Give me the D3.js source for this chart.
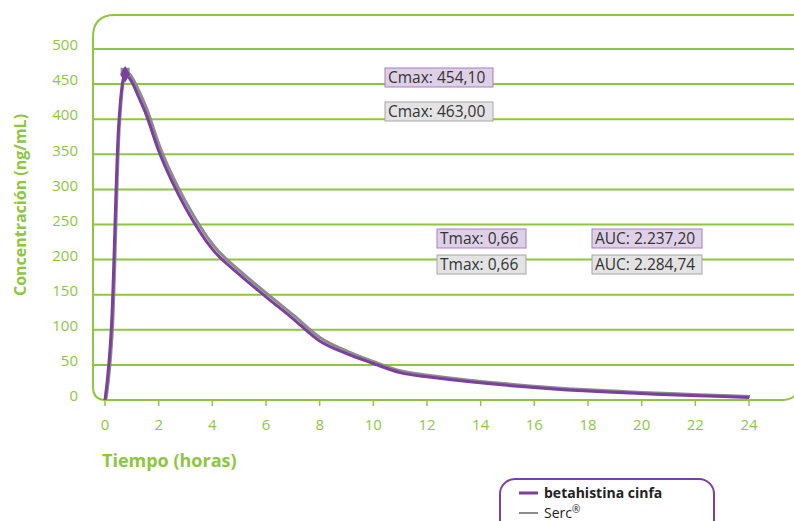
<!DOCTYPE html>
<html>
<head>
<meta charset="utf-8">
<script src="https://cdn.jsdelivr.net/npm/d3@7"></script>
<style>
    body { margin: 0; background: #fff; }
    svg { display: block; font-family: "Open Sans", "Noto Sans", sans-serif; }
</style>
</head>
<body>
<div id="chart"></div>
<script>
// data
const hours = [0, 0.25, 0.5, 0.75, 1, 1.25, 1.5, 2, 2.5, 3, 4, 5, 6, 7, 8, 9, 10, 11, 12, 24];
const cinfa = [0, 112, 385, 464, 453, 432, 410, 355, 311, 274, 215, 179, 147, 116, 84, 66, 52, 39, 33, 3.5];
const serc  = [0, 108, 390, 467, 456, 437, 415, 360, 316, 279, 219, 182, 150, 119, 87, 68, 53, 40, 34, 3.5];
const xTicks = [0, 2, 4, 6, 8, 10, 12, 14, 16, 18, 20, 22, 24];
const yTicks = [0, 50, 100, 150, 200, 250, 300, 350, 400, 450, 500];
const peakIndex = 3;
const cinfaLabels = ["Cmax: 454,10", "Tmax: 0,66", "AUC: 2.237,20"];
const sercLabels = ["Cmax: 463,00", "Tmax: 0,66", "AUC: 2.284,74"];
const seriesNames = ["betahistina cinfa", "Serc"];

const green = "#8dc63f";
const purple = "#7b3f9e";
const grey = "#8c8c8c";

const width = 794, height = 521;

const svg = d3.select("#chart")
    .append("svg")
    .attr("width", width)
    .attr("height", height);

const x = d3.scaleLinear().domain([0, 24]).range([105, 749]);
const y = d3.scaleLinear().domain([0, 500]).range([400, 49]);

// gridlines
svg.append("g")
    .selectAll("line")
    .data(yTicks.filter((d) => d > 0))
    .enter()
    .append("line")
    .attr("x1", 93)
    .attr("x2", width)
    .attr("y1", (d) => y(d))
    .attr("y2", (d) => y(d))
    .attr("stroke", green)
    .attr("stroke-width", 2);

// frame: top-left and bottom corners rounded
const fL = 93, fT = 15, fB = 400, fR = 792;
svg.append("path")
    .attr("d", `M${width},${fT} L${fL + 22},${fT} Q${fL},${fT} ${fL},${fT + 22}
                L${fL},${fB - 13} Q${fL},${fB} ${fL + 13},${fB}
                L${fR - 10},${fB} Q${fR},${fB} ${fR + 4},${fB - 6}`)
    .attr("fill", "none")
    .attr("stroke", green)
    .attr("stroke-width", 2);

// x axis ticks + labels
const xAxis = svg.append("g");
xAxis.selectAll("line")
    .data(xTicks)
    .enter()
    .append("line")
    .attr("x1", (d) => x(d))
    .attr("x2", (d) => x(d))
    .attr("y1", fB)
    .attr("y2", fB + 6)
    .attr("stroke", green)
    .attr("stroke-width", 1.5);
xAxis.selectAll("text")
    .data(xTicks)
    .enter()
    .append("text")
    .attr("x", (d) => x(d))
    .attr("y", 430)
    .attr("text-anchor", "middle")
    .attr("fill", green)
    .attr("font-size", 15)
    .text((d) => d);

// y labels
svg.append("g")
    .selectAll("text")
    .data(yTicks)
    .enter()
    .append("text")
    .attr("x", 78)
    .attr("y", (d) => y(d) - 4)
    .attr("dy", "0.35em")
    .attr("text-anchor", "end")
    .attr("fill", green)
    .attr("font-size", 15)
    .text((d) => d);

// axis titles
svg.append("text")
    .attr("transform", "translate(26,205) rotate(-90)")
    .attr("text-anchor", "middle")
    .attr("fill", green)
    .attr("font-size", 16)
    .attr("font-weight", "bold")
    .text("Concentración  (ng/mL)");

svg.append("text")
    .attr("x", 102)
    .attr("y", 467)
    .attr("fill", green)
    .attr("font-size", 18)
    .attr("font-weight", "bold")
    .text("Tiempo (horas)");

// lines
const line = d3.line()
    .x((d, i) => x(hours[i]))
    .y((d) => y(d))
    .curve(d3.curveMonotoneX);

svg.append("path")
    .attr("d", line(serc))
    .attr("transform", "translate(1,-1)")
    .attr("fill", "none")
    .attr("stroke", grey)
    .attr("stroke-width", 3);

svg.append("path")
    .attr("d", line(cinfa))
    .attr("fill", "none")
    .attr("stroke", purple)
    .attr("stroke-width", 3);

// peak markers
svg.append("path")
    .attr("d", d3.symbol().type(d3.symbolSquare).size(80)())
    .attr("transform", `translate(${x(hours[peakIndex])},${y(serc[peakIndex])})`)
    .attr("fill", grey);
svg.append("path")
    .attr("d", d3.symbol().type(d3.symbolDiamond).size(80)())
    .attr("transform", `translate(${x(hours[peakIndex])},${y(cinfa[peakIndex])})`)
    .attr("fill", purple);

// annotation boxes
const boxes = [
    { text: cinfaLabels[0], x: 385, y: 68, w: 108, fill: "#ddd0e7", stroke: "#a77fc3" },
    { text: sercLabels[0], x: 385, y: 102, w: 108, fill: "#e3e3e3", stroke: "#a6a6a6" },
    { text: cinfaLabels[1], x: 437, y: 229, w: 89, fill: "#ddd0e7", stroke: "#a77fc3" },
    { text: sercLabels[1], x: 437, y: 255, w: 89, fill: "#e3e3e3", stroke: "#a6a6a6" },
    { text: cinfaLabels[2], x: 592, y: 229, w: 110, fill: "#ddd0e7", stroke: "#a77fc3" },
    { text: sercLabels[2], x: 592, y: 255, w: 110, fill: "#e3e3e3", stroke: "#a6a6a6" },
];

const boxG = svg.append("g")
    .selectAll("g")
    .data(boxes)
    .enter()
    .append("g")
    .attr("transform", (d) => `translate(${d.x},${d.y})`);
boxG.append("rect")
    .attr("width", (d) => d.w)
    .attr("height", 19)
    .attr("fill", (d) => d.fill)
    .attr("stroke", (d) => d.stroke)
    .attr("stroke-width", 1);
boxG.append("text")
    .attr("x", 3)
    .attr("y", 15)
    .attr("fill", "#333")
    .attr("font-size", 15.5)
    .text((d) => d.text);

// legend
const legend = svg.append("g").attr("transform", "translate(500,479)");
legend.append("rect")
    .attr("width", 214)
    .attr("height", 70)
    .attr("rx", 15)
    .attr("fill", "#fff")
    .attr("stroke", purple)
    .attr("stroke-width", 2);
legend.selectAll("line")
    .data([purple, grey])
    .enter()
    .append("line")
    .attr("x1", 19)
    .attr("x2", 38)
    .attr("y1", (d, i) => 14 + i * 20)
    .attr("y2", (d, i) => 14 + i * 20)
    .attr("stroke", (d) => d)
    .attr("stroke-width", (d, i) => (i === 0 ? 3 : 2));
const legendText = legend.selectAll("text")
    .data(seriesNames)
    .enter()
    .append("text")
    .attr("x", 44)
    .attr("y", (d, i) => 19 + i * 20)
    .attr("fill", "#222")
    .attr("font-size", 14)
    .attr("font-weight", (d, i) => (i === 0 ? "bold" : "normal"))
    .text((d) => d);
legendText.filter((d, i) => i === 1)
    .append("tspan")
    .attr("dy", -5)
    .attr("font-size", 10)
    .text("®");
</script>
</body>
</html>
